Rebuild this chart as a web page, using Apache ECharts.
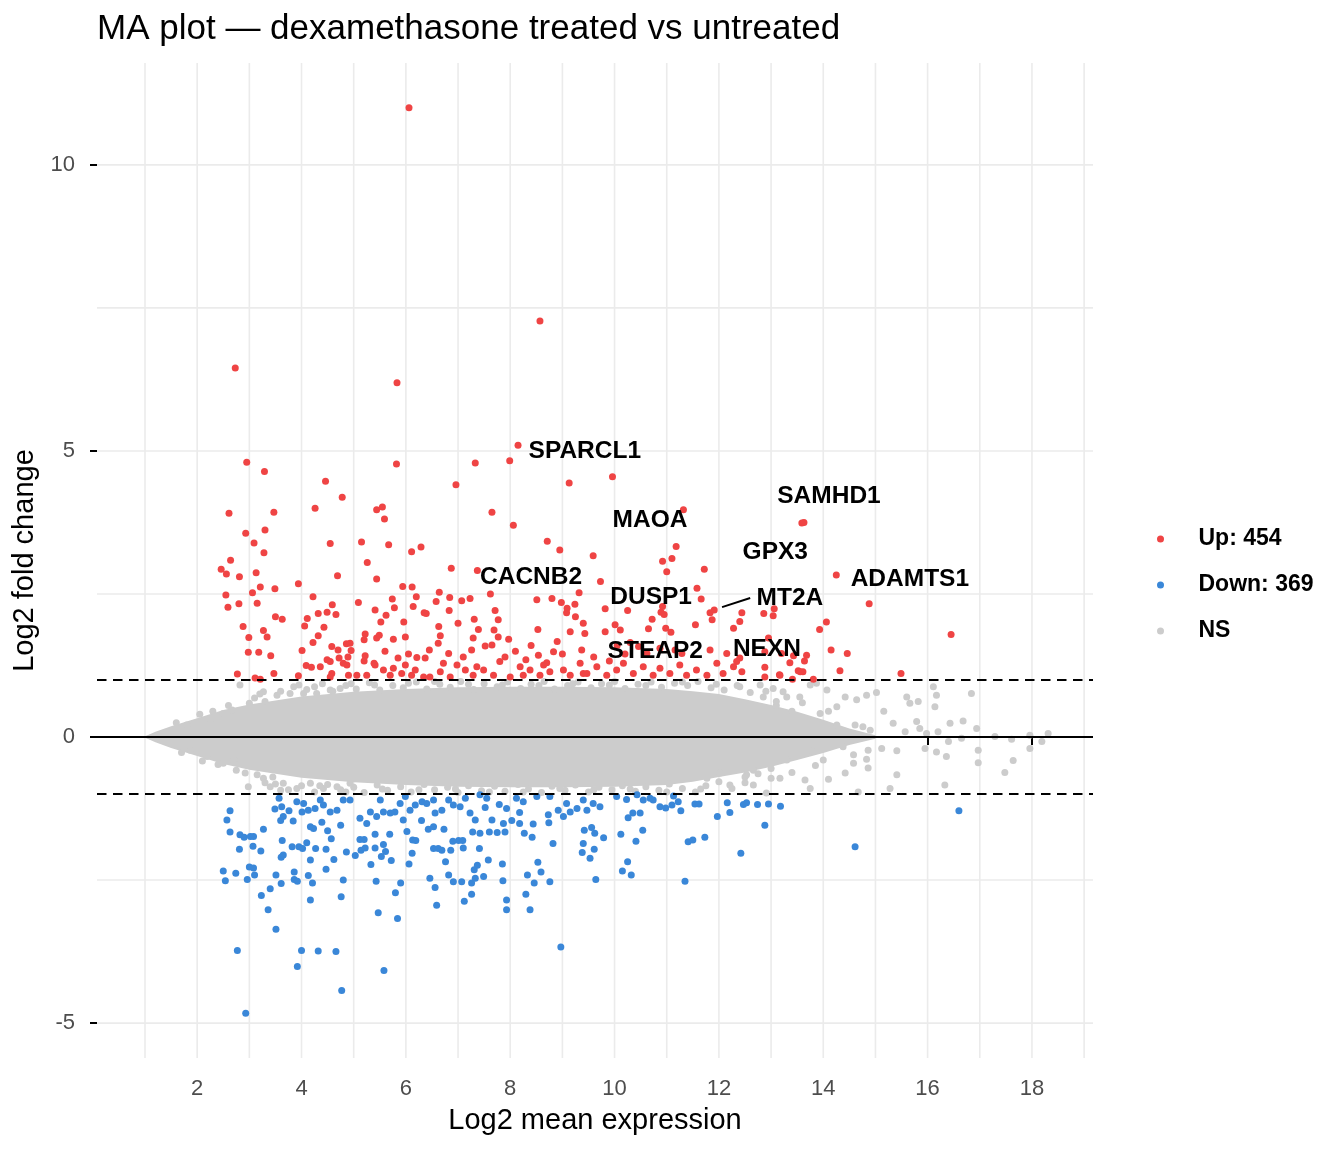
<!DOCTYPE html>
<html>
<head>
<meta charset="utf-8">
<script src="https://cdn.jsdelivr.net/npm/echarts@6/dist/echarts.min.js"></script>
<style>
html,body{margin:0;padding:0;background:#fff;}
#chart{width:1344px;height:1152px;}
</style>
</head>
<body>
<div id="chart"></div>
<script>
// ---------------- data ----------------
const titleText = 'MA plot \u2014 dexamethasone treated vs untreated';
const xAxisTitle = 'Log2 mean expression';
const yAxisTitle = 'Log2 fold change';
const xTicks = [2, 4, 6, 8, 10, 12, 14, 16, 18];
const yTicks = [-5, 0, 5, 10];
const xGridValues = [1,2,3,4,5,6,7,8,9,10,11,12,13,14,15,16,17,18,19];
const yGridValues = [-5, -2.5, 0, 2.5, 5, 7.5, 10];
const foldThresholds = [1, -1];
const legendNames = ['Up: 454', 'Down: 369', 'NS'];

const upPoints = [
[6.06,11.0],[8.57,7.27],[2.73,6.45],[5.83,6.19],[8.15,5.10],[2.95,4.80],[3.29,4.64],[7.33,4.79],[7.99,4.83],[5.82,4.77],
[9.96,4.55],[4.46,4.47],[6.96,4.41],[9.13,4.44],[4.78,4.19],[2.61,3.91],[4.26,4.00],[5.44,3.97],[5.55,4.02],[5.59,3.81],
[3.47,3.93],[7.65,3.93],[11.32,3.97],[8.06,3.70],[3.30,3.62],[2.93,3.56],[13.59,3.74],[13.63,3.75],[4.55,3.38],[5.67,3.36],
[6.11,3.24],[6.29,3.32],[3.09,3.39],[3.28,3.22],[8.71,3.42],[8.95,3.27],[9.59,3.17],[11.18,3.33],[10.92,3.07],[11.10,3.12],
[11.00,2.89],[11.72,2.93],[2.64,3.09],[2.46,2.93],[2.56,2.85],[2.81,2.80],[3.13,2.87],[4.69,2.82],[5.26,3.05],[5.15,3.41],
[5.44,2.76],[14.25,2.83],[6.87,2.95],[7.37,2.91],[3.94,2.68],[5.94,2.63],[6.12,2.62],[9.73,2.72],[14.88,2.33],[16.45,1.79],
[15.49,1.11],[14.06,2.01],[13.93,1.88],[14.15,1.52],[14.46,1.46],[14.32,1.16],[13.68,1.43],[13.64,1.33],[13.52,1.16],[13.61,1.14],
[13.36,1.30],[13.43,1.42],[13.20,1.46],[13.16,1.09],[13.41,1.01],[13.81,1.01],[12.88,1.22],[12.88,1.05],[12.95,1.73],[12.86,2.16],
[13.04,2.12],[13.06,2.24],[12.44,2.17],[12.40,2.02],[12.44,1.14],[12.88,1.49],[11.83,2.17],[11.91,2.22],[11.87,2.05],[12.28,1.90],
[11.58,2.60],[11.66,2.41],[10.72,2.06],[10.89,2.18],[10.95,2.14],[11.55,1.96],[10.92,2.28],[10.98,1.90],[11.08,1.83],[10.65,1.89],
[10.01,1.96],[10.11,1.87],[9.82,2.24],[10.25,2.21],[9.32,2.52],[9.40,1.99],[9.43,1.81],[9.08,2.17],[9.25,2.10],[9.24,2.32],
[9.09,2.25],[8.98,2.35],[8.80,2.42],[8.51,2.40],[8.53,1.88],[9.15,1.84],[9.82,1.84],[8.90,1.67],[7.62,2.50],[6.64,2.53],
[6.58,2.37],[6.84,2.44],[7.07,2.38],[7.23,2.42],[6.35,2.17],[6.83,2.21],[7.31,2.06],[7.00,1.99],[7.71,2.21],[7.77,2.05],
[7.69,1.87],[6.63,1.93],[6.66,1.77],[7.39,1.88],[7.77,1.75],[7.97,1.71],[7.29,1.73],[6.45,1.52],[6.37,1.38],[6.82,1.46],
[7.26,1.52],[7.52,1.59],[7.65,1.61],[7.90,1.40],[8.54,1.43],[8.83,1.49],[9.37,1.52],[10.46,1.58],[10.62,1.46],[10.87,1.55],
[11.16,1.52],[11.29,1.46],[11.83,1.52],[12.15,1.46],[12.40,1.38],[3.21,2.62],[3.06,2.52],[3.49,2.59],[2.55,2.48],[2.59,2.27],
[2.80,2.33],[3.15,2.34],[3.50,2.10],[3.63,2.06],[2.88,1.93],[2.99,1.74],[3.27,1.86],[3.34,1.75],[2.98,1.48],[3.18,1.48],
[3.41,1.42],[2.77,1.10],[3.11,1.03],[3.21,1.01],[3.47,1.11],[4.22,2.45],[4.11,2.07],[4.06,1.94],[4.32,2.16],[4.49,2.18],
[4.59,2.31],[4.66,2.14],[4.43,1.92],[4.32,1.77],[4.22,1.65],[4.01,1.51],[4.58,1.58],[4.70,1.52],[4.49,1.35],[4.09,1.25],
[4.19,1.22],[4.36,1.23],[4.72,1.38],[4.89,1.40],[4.95,1.51],[4.86,1.63],[4.93,1.64],[4.87,1.26],[4.58,1.11],[4.55,1.05],
[3.94,1.07],[4.90,1.08],[5.06,1.08],[5.09,2.35],[5.41,2.22],[5.74,2.41],[5.78,2.26],[5.62,2.13],[5.52,2.01],[5.96,2.01],
[6.20,2.45],[6.14,2.28],[6.39,2.16],[5.22,1.80],[5.20,1.70],[5.44,1.73],[5.49,1.78],[5.76,1.71],[5.99,1.75],[5.22,1.42],
[5.20,1.33],[5.39,1.29],[6.62,1.64],[6.21,1.39],
[5.25,1.08],[5.41,1.26],[5.57,1.17],[5.70,1.08],[5.76,1.20],[5.92,1.11],[5.99,1.26],[6.11,1.08],[6.18,1.17],[6.34,1.05],
[6.46,1.05],[6.66,1.14],[6.72,1.29],[6.85,1.05],[6.98,1.26],[7.14,1.17],[7.29,1.08],[7.36,1.23],[7.49,1.17],[7.68,1.08],
[8.00,1.05],[8.19,1.23],[8.25,1.08],[8.38,1.17],[8.57,1.08],[8.64,1.26],[8.76,1.14],[9.02,1.17],[9.15,1.08],[9.34,1.29],
[9.40,1.11],[4.55,1.32],[4.80,1.29],[9.47,1.11],[9.66,1.23],[9.85,1.08],[10.04,1.17],[10.17,1.29],[10.36,1.11],[10.55,1.23],
[10.74,1.08],[10.87,1.20],[11.06,1.11],[11.25,1.26],[11.38,1.08],[11.57,1.17],[11.77,1.08],[11.96,1.29],[12.08,1.11],[12.28,1.23],
[12.34,1.32],[13.17,1.08],[13.56,1.14],[7.80,1.32],[8.10,1.50],[8.30,1.35],[8.70,1.30],[9.00,1.45],[9.60,1.40],[9.90,1.33],
[10.20,1.45],[10.30,1.65],[10.05,1.60],[8.40,1.60],[7.10,1.40],[6.05,1.45],[5.60,1.50],[5.85,1.38]
];

const downPoints = [
[8.97,-3.67],[11.35,-2.52],[12.42,-2.03],[14.61,-1.92],[16.60,-1.29],[12.88,-1.54],[5.58,-4.08],[3.92,-4.01],[4.77,-4.43],[2.93,-4.83],
[2.77,-3.73],[4.00,-3.73],[4.32,-3.74],[4.66,-3.75],[3.51,-3.36],[3.36,-3.02],[3.23,-2.77],[3.40,-2.65],[3.51,-2.41],[3.61,-2.56],
[2.50,-2.34],[2.54,-2.51],[2.74,-2.38],[3.00,-2.27],[3.08,-2.29],[3.10,-2.41],[2.96,-2.49],[2.63,-1.29],[2.57,-1.45],[2.63,-1.66],
[2.82,-1.71],[2.90,-1.75],[3.02,-1.74],[3.08,-1.74],[2.81,-1.96],[3.07,-1.91],[3.22,-1.99],[3.27,-1.61],[3.49,-1.26],[3.57,-1.07],
[3.62,-1.22],[3.76,-1.29],[3.60,-1.46],[3.65,-1.39],[3.84,-1.47],[3.63,-1.81],[3.61,-2.10],[3.65,-2.06],[3.82,-1.92],[3.86,-2.36],
[3.86,-2.49],[3.92,-2.52],[3.95,-1.92],[4.02,-1.95],[4.10,-1.85],[4.17,-2.15],[4.13,-2.42],[4.21,-2.55],[4.17,-2.85],[4.27,-1.95],
[4.47,-1.96],[4.47,-2.31],[4.62,-2.14],[4.76,-2.79],[4.80,-2.50],[4.57,-1.78],[4.50,-1.64],[4.39,-1.49],[4.17,-1.57],[4.23,-1.60],
[4.75,-1.54],[4.86,-2.01],[5.03,-2.07],[5.12,-1.79],[5.20,-1.79],[5.14,-1.98],[5.22,-1.94],[5.33,-2.23],[5.41,-1.70],[5.41,-1.94],
[5.43,-2.52],[5.47,-3.07],[5.53,-2.09],[5.61,-2.00],[5.57,-1.88],[5.72,-2.16],[5.69,-1.70],[5.80,-2.72],[5.84,-3.17],[5.90,-2.55],
[6.06,-2.22],[6.12,-2.03],[6.13,-1.80],[6.19,-1.81],[6.02,-1.65],[6.30,-1.46],[6.46,-2.47],[6.56,-2.63],[6.59,-2.94],[6.53,-1.95],
[6.62,-1.95],[6.69,-1.98],[6.76,-2.18],[6.82,-2.41],[6.86,-1.98],[6.91,-2.53],[7.07,-2.53],[7.12,-2.87],[7.26,-2.75],[7.26,-2.55],
[7.33,-2.47],[7.31,-2.32],[7.37,-2.24],[7.49,-2.44],[7.41,-1.95],[6.90,-1.82],[7.01,-1.81],[7.09,-1.81],[7.10,-1.94],[6.73,-1.61],
[6.43,-1.61],[6.53,-1.57],[7.28,-1.66],[7.42,-1.68],[7.58,-2.15],[11.97,-1.39],[12.21,-1.32],[11.73,-1.75],[11.41,-1.83],[11.50,-1.80],
[12.16,-1.15],[12.47,-1.18],[12.53,-1.15],[12.74,-1.18],[12.95,-1.17],[13.18,-1.21],[11.54,-1.17],[11.62,-1.17],[11.27,-1.29],[11.22,-1.13],
[10.87,-1.22],[10.98,-1.24],[11.10,-1.19],[10.54,-1.63],[10.41,-1.82],[10.49,-1.33],[10.35,-1.33],[10.26,-1.41],[10.12,-1.70],[10.25,-2.18],
[10.15,-2.34],[10.32,-2.41],[9.64,-2.49],[9.40,-1.86],[9.38,-2.02],[9.53,-2.12],[9.61,-1.96],[9.79,-1.76],[9.62,-1.68],[9.56,-1.58],
[9.42,-1.63],[8.82,-1.86],[8.53,-2.19],[8.59,-2.36],[8.76,-2.53],[8.46,-2.55],[8.33,-2.41],[8.30,-2.75],[8.38,-3.02],[7.93,-2.85],
[7.93,-3.02],[7.85,-2.22],[7.86,-2.51],[8.27,-1.68],[8.42,-1.75],[8.44,-1.52],[8.18,-1.32],[8.18,-1.51],[8.73,-1.36],[8.74,-1.50],
[7.60,-1.66],[7.75,-1.67],[7.90,-1.66],[7.65,-1.45],[7.87,-1.51],[8.03,-1.46],[7.93,-1.25],[7.79,-1.18],[7.52,-1.23],
[3.91,-1.13],[4.04,-1.16],[4.01,-1.31],[4.13,-1.28],[4.26,-1.25],[4.36,-1.10],[4.42,-1.19],[4.55,-1.31],[4.68,-1.28],[4.80,-1.10],
[4.93,-1.10],[5.12,-1.42],[5.25,-1.51],[5.32,-1.31],[5.44,-1.39],[5.51,-1.10],[5.57,-1.31],[5.70,-1.33],[5.79,-1.31],[5.89,-1.16],
[5.99,-1.04],[5.95,-1.45],[6.08,-1.28],[6.18,-1.19],[6.31,-1.13],[6.40,-1.16],[6.53,-1.10],[6.56,-1.33],[6.69,-1.28],[6.82,-1.10],
[6.91,-1.19],[7.04,-1.22],[7.14,-1.07],[7.23,-1.33],[7.33,-1.45],[7.42,-1.01],[7.55,-1.07],[8.12,-1.07],[8.25,-1.13],[8.51,-1.04],
[8.76,-1.04],[8.92,-1.28],[9.02,-1.39],[9.08,-1.16],[9.15,-1.31],[9.28,-1.25],[9.40,-1.10],[9.47,-1.28],[9.59,-1.16],[9.72,-1.22],
[10.04,-1.04],[10.23,-1.09],[10.43,-1.01],[10.55,-1.10],[10.68,-1.07],[10.74,-1.10],[11.13,-1.03]
];

// dense core of the non-significant cloud (outline)
const nsCoreX     = [0.97, 1.2, 1.5, 2.0, 2.5, 3.0, 3.5, 4.0, 5.0, 6.0, 7.0, 8.0, 9.0, 10.0, 11.0, 11.5, 12.0, 12.5, 13.0, 13.5, 14.0, 14.5, 15.0];
const nsCoreUpper = [0.0, 0.09, 0.19, 0.33, 0.47, 0.57, 0.64, 0.71, 0.79, 0.84, 0.87, 0.88, 0.88, 0.87, 0.84, 0.80, 0.75, 0.66, 0.56, 0.44, 0.30, 0.15, 0.03];
const nsCoreLower = [0.0, -0.09, -0.19, -0.33, -0.47, -0.57, -0.64, -0.71, -0.79, -0.84, -0.87, -0.88, -0.88, -0.87, -0.84, -0.78, -0.70, -0.62, -0.52, -0.40, -0.28, -0.14, -0.03];

// scattered non-significant genes outside the dense core
const nsPoints = [
[14.42,0.70],[14.64,0.65],[14.83,0.73],[15.02,0.78],[15.16,0.45],[15.34,0.24],[15.57,0.09],[15.60,0.70],[15.66,0.59],[15.82,0.62],
[15.79,0.27],[15.85,0.15],[16.11,0.88],[16.17,0.73],[16.14,0.53],[16.43,0.24],[16.68,0.28],[16.84,0.76],[16.94,0.15],[15.98,0.06],
[16.20,0.09],[16.40,-0.08],[16.65,-0.02],[17.29,0.01],[17.61,-0.04],[17.96,0.03],[18.31,0.06],[18.19,-0.08],[17.96,-0.20],[17.64,-0.41],
[17.48,-0.62],[16.97,-0.23],[16.97,-0.45],[16.36,-0.34],[16.33,-0.84],[15.95,-0.20],[16.17,-0.26],[15.41,-0.24],[15.41,-0.66],[15.28,-0.90],
[15.12,-0.20],[14.86,-0.23],[14.83,-0.39],[14.86,-0.54],[14.67,-0.96],[14.58,-0.46],[14.42,-0.63],[14.10,-0.74],[13.75,-0.90],[13.65,-0.75],
[14.76,0.18],[14.90,0.12],[14.61,0.21],[14.51,0.01],[14.38,0.01],[14.26,0.21],[14.38,-0.17],[14.58,-0.31],[14.07,0.82],[13.87,0.94],
[13.75,0.91],[13.55,0.70],[13.23,0.79],[13.04,0.85],[12.79,0.91],[14.26,0.53],[13.94,0.41],[13.17,-0.72],[12.66,-0.58],[12.53,-0.66],
[12.21,-0.84],[12.02,-0.63],[11.77,-0.72],[12.66,-0.84],[12.91,-0.98],[13.40,0.45],[13.70,0.30],[13.30,-0.40],[13.80,-0.25],[13.10,0.55],
[12.40,0.88],[12.90,0.80],[13.30,0.70],[13.60,0.60],[12.50,-0.80],[13.00,-0.72],[13.40,-0.62],[13.85,-0.50],[14.10,0.45],[14.00,-0.40],
[2.82,0.91],[3.00,0.59],[2.67,0.47],[3.27,0.79],[3.53,0.73],[3.78,0.76],[4.04,0.76],[4.29,0.76],[4.55,0.82],[4.74,0.85],
[2.92,-0.63],[2.98,-0.87],[2.70,-0.40],[3.27,-0.72],[3.40,-0.87],[3.65,-0.81],[3.91,-0.90],[4.17,-0.81],[4.42,-0.90],[4.68,-0.87],
[4.93,-0.81],[1.80,0.21],[1.87,-0.23],[2.25,0.30],[2.50,0.41],[2.19,-0.34],[2.50,-0.46],[2.30,0.45],[2.60,0.55],[3.10,0.68],
[3.30,0.62],[2.40,-0.48],[2.75,-0.58],[3.15,-0.66],[3.45,-0.70],[1.60,0.25],[2.05,0.40],[1.70,-0.27],[2.10,-0.42],
[3.60,0.80],[3.85,0.88],[4.10,0.83],[4.40,0.93],[4.60,0.80],[4.85,0.90],[5.05,0.84],[5.30,0.95],[5.50,0.82],[5.75,0.90],
[5.95,0.86],[6.20,0.96],[6.40,0.84],[6.65,0.92],[6.85,0.87],[7.05,0.97],[7.30,0.83],[7.50,0.93],[7.75,0.88],[7.95,0.96],
[8.20,0.85],[8.40,0.92],[8.65,0.97],[8.85,0.84],[9.10,0.90],[9.30,0.96],[9.55,0.86],[9.75,0.93],[10.00,0.97],[10.20,0.85],
[10.45,0.92],[10.70,0.96],[10.90,0.87],[11.15,0.94],[11.40,0.90],[11.60,0.97],[11.85,0.86],[12.10,0.82],[12.35,0.90],[12.60,0.78],
[12.85,0.70],[13.10,0.62],
[3.50,-0.82],[3.75,-0.92],[4.00,-0.85],[4.25,-0.96],[4.50,-0.83],[4.75,-0.92],[5.00,-0.88],[5.20,-0.97],[5.45,-0.84],[5.65,-0.93],
[5.90,-0.87],[6.10,-0.96],[6.35,-0.83],[6.55,-0.92],[6.80,-0.88],[7.00,-0.97],[7.20,-0.85],[7.45,-0.94],[7.70,-0.86],[7.90,-0.95],
[8.15,-0.83],[8.35,-0.91],[8.60,-0.97],[8.80,-0.86],[9.05,-0.93],[9.25,-0.84],[9.50,-0.96],[9.70,-0.88],[9.95,-0.92],[10.15,-0.85],
[10.40,-0.95],[10.60,-0.87],[10.85,-0.93],[11.05,-0.82],[11.30,-0.90],[11.55,-0.96],[11.75,-0.85],[12.00,-0.78],[12.25,-0.90],[12.50,-0.70],
[12.75,-0.64],[13.00,-0.55],
[4.95,0.93],[5.40,0.91],[6.05,0.94],[6.55,0.97],[7.20,0.92],[7.85,0.91],[8.55,0.90],[9.20,0.93],[9.90,0.91],[10.60,0.90],
[11.30,0.96],[11.95,0.92],[3.20,0.75],[3.95,0.91],[4.25,0.88],
[4.85,-0.96],[5.55,-0.91],[6.25,-0.92],[6.95,-0.91],[7.60,-0.96],[8.25,-0.96],[8.95,-0.90],[9.60,-0.92],[10.30,-0.91],[11.00,-0.96],
[11.65,-0.91],[3.30,-0.80],[3.60,-0.93],[4.35,-0.85]
];

// gene labels (text anchor positions, data units)
const geneNames  = ['SPARCL1', 'MAOA', 'SAMHD1', 'GPX3', 'ADAMTS1', 'CACNB2', 'DUSP1', 'MT2A', 'STEAP2', 'NEXN'];
const geneLabelX = [9.43, 10.68, 14.11, 13.08, 15.66, 8.40, 10.70, 13.36, 10.78, 12.92];
const geneLabelY = [5.00, 3.78, 4.20, 3.23, 2.76, 2.80, 2.45, 2.43, 1.50, 1.54];
// MT2A leader segment
const mt2aSegmentX = [12.06, 12.60];
const mt2aSegmentY = [2.27, 2.43];

const xMin = 0.08, xMax = 19.17, yMin = -5.61, yMax = 11.78;

// ---------------- chart ----------------
const FONT = '"Liberation Sans", Arial, Helvetica, sans-serif';
const RED = '#EF4444', BLUE = '#3A87D8', GREY = '#CCCCCC';
const chart = echarts.init(document.getElementById('chart'), null, {renderer: 'canvas'});

const refMarks = [{yAxis: 0, lineStyle: {type: 'solid', width: 2, color: '#000'}}]
  .concat(foldThresholds.map(v => ({yAxis: v, lineStyle: {type: [9.5, 6.5], width: 2, color: '#000'}})));

const option = {
  animation: false,
  backgroundColor: '#fff',
  textStyle: {fontFamily: FONT},
  title: {
    text: titleText, left: 97, top: 12, padding: 0,
    textStyle: {fontFamily: FONT, fontSize: 35, fontWeight: 'normal', color: '#000'}
  },
  grid: {left: 97, right: 251, top: 63, bottom: 94, containLabel: false},
  legend: {
    data: legendNames, orient: 'vertical', left: 1152, top: 522,
    itemWidth: 66, itemHeight: 7, itemGap: 22, icon: 'circle',
    textStyle: {fontFamily: FONT, fontSize: 23, fontWeight: 'bold', color: '#000', lineHeight: 24},
    selectedMode: false
  },
  xAxis: {
    type: 'value', min: xMin, max: xMax,
    name: xAxisTitle, nameLocation: 'middle', nameGap: 48,
    nameTextStyle: {fontFamily: FONT, fontSize: 29, color: '#000'},
    axisLine: {show: false},
    axisTick: {show: true, length: 8, lineStyle: {color: '#000', width: 2}, customValues: xTicks},
    axisLabel: {show: true, margin: 20, fontFamily: FONT, fontSize: 22, color: '#4D4D4D', customValues: xTicks},
    splitLine: {show: false}
  },
  yAxis: {
    type: 'value', min: yMin, max: yMax,
    name: yAxisTitle, nameLocation: 'middle', nameGap: 51, nameRotate: 90,
    nameTextStyle: {fontFamily: FONT, fontSize: 29, color: '#000'},
    axisLine: {show: false},
    axisTick: {show: true, length: 7, lineStyle: {color: '#000', width: 2}, customValues: yTicks},
    axisLabel: {show: true, margin: 22, fontFamily: FONT, fontSize: 22, color: '#4D4D4D', customValues: yTicks},
    splitLine: {show: false}
  },
  series: [
    {
      name: 'gridlines', type: 'custom', z: 0, silent: true,
      data: [[xMin, yMin]],
      renderItem: function (params, api) {
        const children = [];
        const st = {stroke: '#EBEBEB', lineWidth: 1.6};
        xGridValues.forEach(v => {
          const a = api.coord([v, yMin]), b = api.coord([v, yMax]);
          children.push({type: 'line', shape: {x1: a[0], y1: a[1], x2: b[0], y2: b[1]}, style: st});
        });
        yGridValues.forEach(v => {
          const a = api.coord([xMin, v]), b = api.coord([xMax, v]);
          children.push({type: 'line', shape: {x1: a[0], y1: a[1], x2: b[0], y2: b[1]}, style: st});
        });
        return {type: 'group', children: children};
      }
    },
    {
      name: 'ns-core', type: 'custom', z: 1, silent: true,
      data: nsCoreX.map((x, i) => [x, nsCoreUpper[i], nsCoreLower[i]]),
      encode: {x: 0, y: [1, 2]},
      renderItem: function (params, api) {
        if (params.dataIndex !== 0) return null;
        const pts = [];
        for (let i = 0; i < nsCoreX.length; i++) pts.push(api.coord([nsCoreX[i], nsCoreUpper[i]]));
        for (let i = nsCoreX.length - 1; i >= 0; i--) pts.push(api.coord([nsCoreX[i], nsCoreLower[i]]));
        return {type: 'polygon', shape: {points: pts}, style: {fill: GREY}};
      }
    },
    {name: 'NS', type: 'scatter', z: 2, data: nsPoints, symbolSize: 7, itemStyle: {color: GREY, opacity: 1}, silent: true},
    {name: 'Up: 454', type: 'scatter', z: 3, data: upPoints, symbolSize: 7, itemStyle: {color: RED, opacity: 1}, silent: true},
    {name: 'Down: 369', type: 'scatter', z: 3, data: downPoints, symbolSize: 7, itemStyle: {color: BLUE, opacity: 1}, silent: true},
    {
      name: 'ref', type: 'scatter', data: [], z: 4, silent: true,
      markLine: {silent: true, symbol: ['none', 'none'], label: {show: false}, data: refMarks, animation: false}
    },
    {
      name: 'mt2a-seg', type: 'line', z: 5, silent: true, symbol: 'none',
      data: mt2aSegmentX.map((x, i) => [x, mt2aSegmentY[i]]),
      lineStyle: {color: '#000', width: 2}
    },
    {
      name: 'labels', type: 'scatter', z: 6, silent: true, symbolSize: 0,
      itemStyle: {opacity: 1},
      data: geneNames.map((n, i) => [geneLabelX[i], geneLabelY[i], n]),
      label: {show: true, position: 'inside', formatter: p => p.data[2],
        fontFamily: FONT, fontSize: 24.5, fontWeight: 'bold', color: '#000', opacity: 1}
    }
  ]
};
chart.setOption(option);
</script>
</body>
</html>
